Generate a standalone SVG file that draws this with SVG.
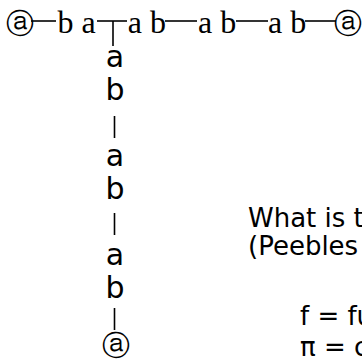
<svg xmlns="http://www.w3.org/2000/svg" width="362" height="362" viewBox="0 0 362 362">
<style>
.s{font-family:"Liberation Serif","Times New Roman",serif;font-size:32px;fill:#000}
.v{font-family:"DejaVu Sans",Verdana,sans-serif;font-size:30px;fill:#000;text-anchor:middle}
.t{font-family:"DejaVu Sans",Verdana,sans-serif;font-size:26px;fill:#000}
.e{font-family:"DejaVu Sans",sans-serif;font-size:28px;fill:#000;text-anchor:middle}
.c line{stroke:#000;stroke-width:1.6}
</style>
<rect width="362" height="362" fill="#fff"/>
<g id="connectors" class="c">
<line x1="31" y1="21" x2="56" y2="21"/>
<line x1="97" y1="21" x2="127" y2="21"/>
<line x1="113" y1="21" x2="113" y2="46"/>
<line x1="165" y1="21" x2="197" y2="21"/>
<line x1="236" y1="21" x2="268" y2="21"/>
<line x1="305" y1="21" x2="336" y2="21"/>
<line x1="114.5" y1="116" x2="114.5" y2="138"/>
<line x1="114.5" y1="213" x2="114.5" y2="235"/>
<line x1="114.5" y1="308" x2="114.5" y2="330"/>
</g>
<g id="end-left"><text class="e" x="19.5" y="33">ⓐ</text></g>
<g id="unit-1"><text class="s" x="57.5" y="33">b a</text></g>
<g id="unit-2"><text class="s" x="127.7" y="33">a b</text></g>
<g id="unit-3"><text class="s" x="198" y="33">a b</text></g>
<g id="unit-4"><text class="s" x="268" y="33">a b</text></g>
<g id="end-right"><text class="e" x="348" y="33">ⓐ</text></g>
<g id="unit-5"><text class="v" x="115" y="67">a</text><text class="v" x="115" y="100">b</text></g>
<g id="unit-6"><text class="v" x="115" y="166">a</text><text class="v" x="115" y="199">b</text></g>
<g id="unit-7"><text class="v" x="115" y="265">a</text><text class="v" x="115" y="298">b</text></g>
<g id="end-bottom"><text class="e" x="115.5" y="355">ⓐ</text></g>
<g id="question">
<text class="t" x="248" y="227">What is t</text>
<text class="t" x="248" y="255">(Peebles</text>
<text class="t" x="300" y="325">f = fu</text>
<text class="t" x="300" y="356">π = c</text>
</g>
</svg>
